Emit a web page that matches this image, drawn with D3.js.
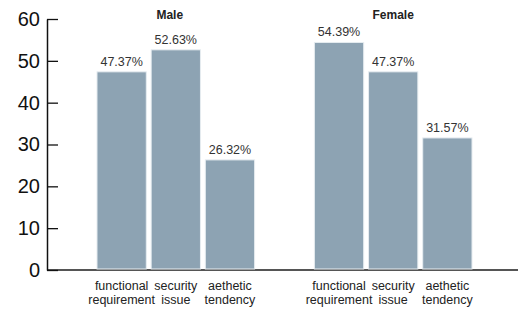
<!DOCTYPE html>
<html><head><meta charset="utf-8">
<script src="https://cdn.jsdelivr.net/npm/d3@7"></script>
<style>body{margin:0;background:#fff;}svg{display:block;font-family:"Liberation Sans",Arial,sans-serif;}</style>
</head><body>
<svg id="c" width="518" height="312"></svg>
<script>
const groups = ["Male", "Female"];
const categories = [["functional", "requirement"], ["security", "issue"], ["aethetic", "tendency"]];
const maleValues = [47.37, 52.63, 26.32];
const femaleValues = [54.39, 47.37, 31.57];
const valueLabels = [["47.37%", "52.63%", "26.32%"], ["54.39%", "47.37%", "31.57%"]];
const yTicks = [0, 10, 20, 30, 40, 50, 60];

const series = [maleValues, femaleValues];
const svg = d3.select("#c");
const y = d3.scaleLinear().domain([0, 60]).range([270, 19]);
const xg = d3.scaleBand().domain(groups).range([97, 472]).paddingInner(0.275).paddingOuter(0);
const catKeys = categories.map(c => c.join(" "));
const xc = d3.scaleBand().domain(catKeys).range([0, xg.bandwidth()]).paddingInner(0.09).paddingOuter(0);

// baseline
svg.append("line").attr("x1", 47).attr("x2", 518).attr("y1", y(0)).attr("y2", y(0))
  .attr("stroke", "#555").attr("stroke-width", 2);

// y axis
const ya = svg.append("g").attr("transform", "translate(47,0)")
  .call(d3.axisLeft(y).tickValues(yTicks).tickSize(-11).tickSizeOuter(0).tickPadding(7));
ya.select(".domain").attr("stroke", "#111").attr("stroke-width", 1.5);
ya.selectAll(".tick line").attr("stroke", "#111").attr("stroke-width", 1.3);
ya.selectAll(".tick text").attr("font-size", 20).attr("fill", "#111")
  .attr("font-family", "Liberation Sans, Arial, sans-serif");

groups.forEach((g, gi) => {
  const gx = xg(g);
  const gEl = svg.append("g").attr("transform", `translate(${gx},0)`);
  const data = series[gi].map((v, i) => ({k: catKeys[i], v, lbl: valueLabels[gi][i], cat: categories[i]}));
  gEl.selectAll("rect").data(data).join("rect")
    .attr("x", d => xc(d.k)).attr("width", xc.bandwidth())
    .attr("y", d => y(d.v)).attr("height", d => y(0) - y(d.v) - 1)
    .attr("fill", "#8da3b3").attr("stroke", "#e6ecf0").attr("stroke-width", 1);
  gEl.selectAll("text.val").data(data).join("text").attr("class", "val")
    .attr("x", d => xc(d.k) + xc.bandwidth() / 2).attr("y", d => y(d.v) - 6)
    .attr("text-anchor", "middle").attr("font-size", 12.5).attr("fill", "#333")
    .text(d => d.lbl);
  const cl = gEl.selectAll("text.cat").data(data).join("text").attr("class", "cat")
    .attr("text-anchor", "middle").attr("font-size", 12.5).attr("fill", "#222");
  cl.each(function(d) {
    const t = d3.select(this);
    d.cat.forEach((line, li) => {
      t.append("tspan").attr("x", xc(d.k) + xc.bandwidth() / 2).attr("y", 290 + li * 14).text(line);
    });
  });
  svg.append("text").attr("x", gx + xg.bandwidth() / 2 - (gi === 0 ? 6 : 0)).attr("y", 19)
    .attr("text-anchor", "middle").attr("font-size", 12).attr("font-weight", "bold")
    .attr("fill", "#222").text(g);
});
</script>
</body></html>
